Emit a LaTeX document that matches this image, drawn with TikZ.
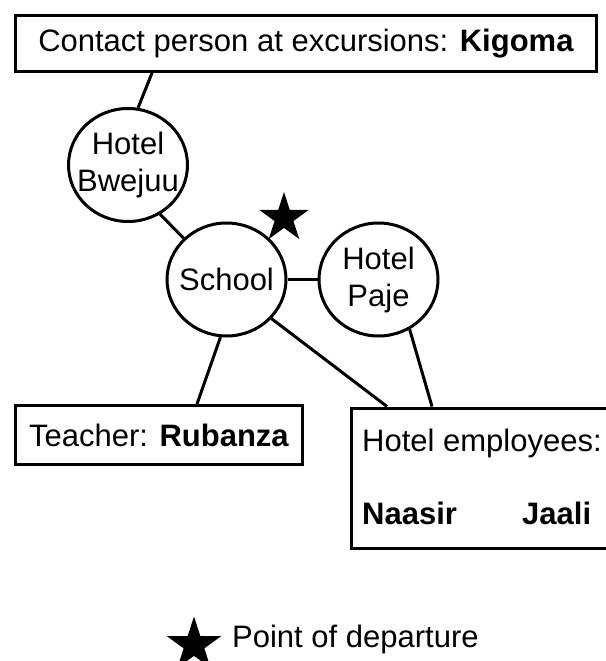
\documentclass[tikz,border=0pt]{standalone}
\usepackage{fontspec}
\setmainfont{Liberation Sans}
\usepackage{tikz}
\usetikzlibrary{positioning}
\usetikzlibrary{shapes.geometric}

\tikzset{
    namebox/.style={draw, rectangle, line width=3pt, inner sep=0pt},
    place/.style={draw, ellipse, line width=3pt, minimum width=119pt, minimum height=113pt, inner sep=0pt,
        label={[align=center, inner sep=0pt]center:#1}},
    link/.style={line width=3pt},
    startstar/.style={star, star points=5, star point ratio=2.618, fill=black, inner sep=0pt}
}

\begin{document}
\begin{tikzpicture}[x=1pt, y=-1pt, font=\fontsize{31pt}{37pt}\selectfont]
        \useasboundingbox (0,0) rectangle (605,661);
        \node[namebox, minimum width=581pt, minimum height=56pt] (contact) at (306,43.5) {Contact person at excursions: \textbf{Kigoma}};
        \node[place={Hotel\\Bwejuu}] (bwejuu) at (128,165) {};
        \node[place={School}] (school) at (226.5,279.5) {};
        \node[place={Hotel\\Paje}] (paje) at (378.5,279.5) {};
        \node[startstar, minimum size=52pt] (start) at (284,218) {};
        \node[namebox, minimum width=287pt, minimum height=59pt] (teacher) at (159,435) {Teacher: \textbf{Rubanza}};
        \node[namebox, minimum width=290pt, minimum height=140pt, anchor=north west] (staff) at (349.5,406.5) {};
        \node[anchor=base west, inner sep=0pt] (stafftitle) at (362,451) {Hotel employees:};
        \node[anchor=base west, inner sep=0pt] (naasir) at (362,524) {\textbf{Naasir}};
        \node[anchor=base west, inner sep=0pt] (jaali) at (522,524) {\textbf{Jaali}};
        \node[startstar, minimum size=57pt] (keystar) at (194,645) {};
        \node[anchor=base west, inner sep=0pt] (keytext) at (232,647) {Point of departure};

        \draw[link] ([xshift=-154pt]contact.south) -- (bwejuu.80);
        \draw[link] (bwejuu.-57) -- (school.136);
        \draw[link] (school.east) -- (paje.west);
        \draw[link] (school.-96) -- ([xshift=38pt]teacher.north);
        \draw[link] (school.-41) -- ([xshift=37.5pt]staff.north west);
        \draw[link] (paje.-58) -- ([xshift=82.5pt]staff.north west);
    \end{tikzpicture}
\end{document}
